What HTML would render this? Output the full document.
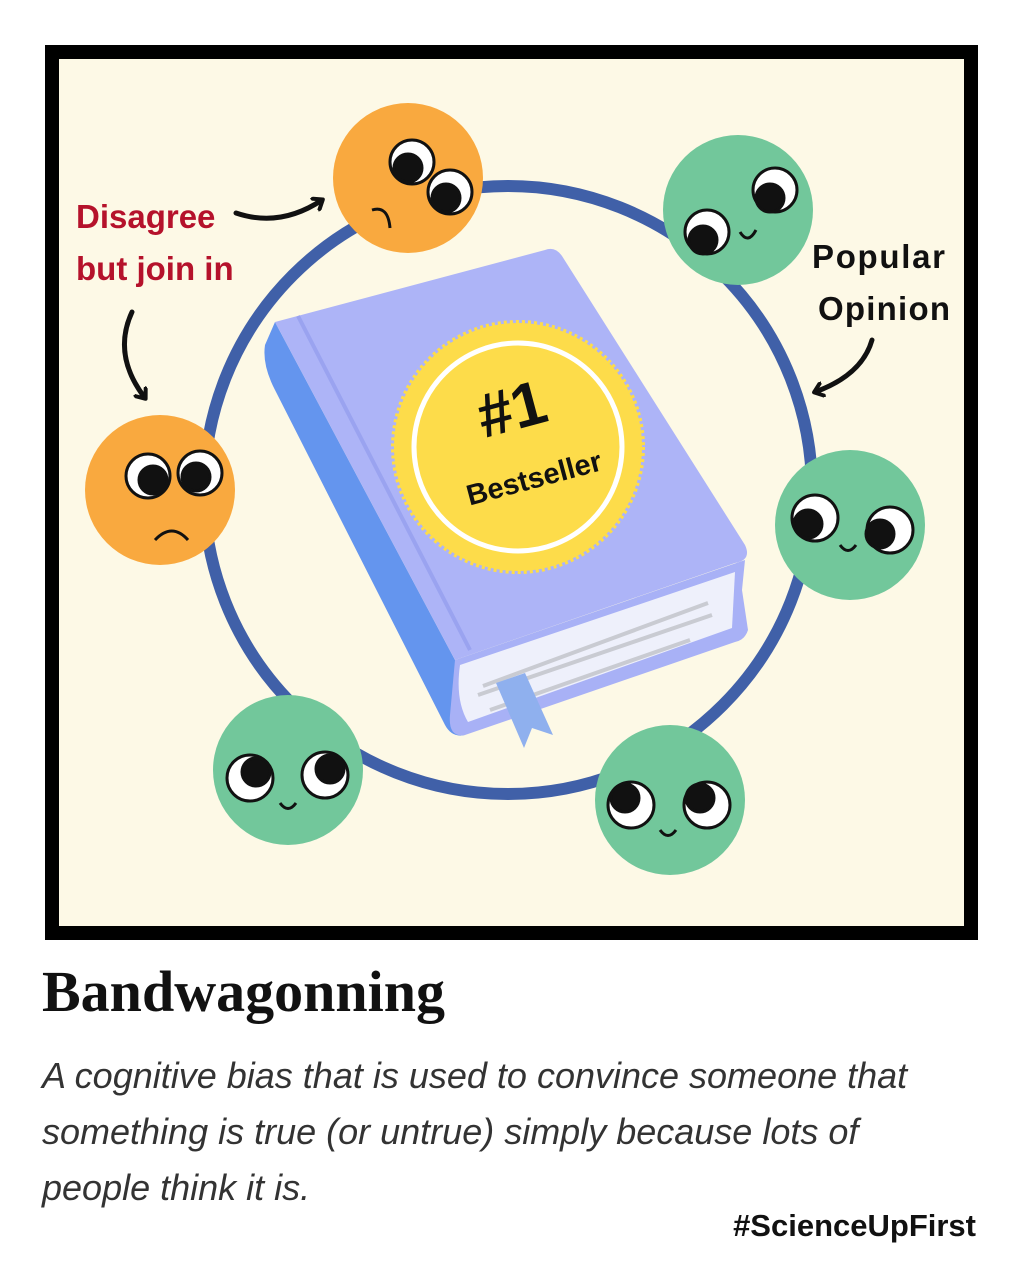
<!DOCTYPE html><html><head><style>
body{margin:0;width:1024px;height:1280px;background:#fff;position:relative;overflow:hidden;font-family:"Liberation Sans",sans-serif}
.t{position:absolute}
</style></head><body>
<svg width="1024" height="950" style="position:absolute;left:0;top:0">
<defs><marker id="ah" markerWidth="16" markerHeight="16" refX="9" refY="8" orient="auto" markerUnits="userSpaceOnUse"><path d="M1,1 L10,8 L1,15" fill="none" stroke="#111" stroke-width="4" stroke-linecap="round" stroke-linejoin="round"/></marker></defs>
<rect x="52" y="52" width="919" height="881" fill="#fdf9e6" stroke="#000" stroke-width="14"/>
<circle cx="508" cy="490" r="304" fill="none" stroke="#4060a8" stroke-width="12"/>
<!-- book -->
<path d="M275,322 L265,345 Q262,365 275,390 L445,725 Q452,738 465,735 L455,660 Z" fill="#6495ee"/>
<path d="M455,660 L745,560 L742,590 L748,630 Q745,640 735,642 L465,735 Q448,738 450,715 Z" fill="#a8b1f6"/>
<path d="M460,665 L735,572 L732,628 L468,722 Q455,700 460,665 Z" fill="#eef0fb"/>
<path d="M478,695 L712,615 M490,710 L690,640 M483,686 L708,603" stroke="#c9cbd2" stroke-width="4"/>
<path d="M496,683 L525,673 L553,735 L532,728 L524,748 Z" fill="#8fb0ee"/>
<path d="M275,322 L545,250 Q555,246 562,256 L745,545 Q752,560 735,563 L455,660 Z" fill="#adb4f7"/>
<path d="M298,316 L470,650" stroke="#9aa3f0" stroke-width="4"/>
<!-- seal -->
<circle cx="518" cy="447" r="124" fill="#fddc4a" stroke="#fddc4a" stroke-width="6" stroke-dasharray="3 3"/>
<circle cx="518" cy="447" r="104" fill="#fddc4a" stroke="#fff" stroke-width="5"/>
<text x="512" y="430" transform="rotate(-15 512 410)" text-anchor="middle" font-family="Liberation Sans" font-weight="bold" font-size="62" fill="#111">#1</text>
<text x="534" y="488" transform="rotate(-15 534 478)" text-anchor="middle" font-family="Liberation Sans" font-weight="bold" font-size="29" fill="#111">Bestseller</text>
<!-- faces -->
<g stroke="#111" stroke-width="3">
<circle cx="408" cy="178" r="75" fill="#f9a93f" stroke="none"/>
<circle cx="412" cy="162" r="22" fill="#fff"/><circle cx="408" cy="168" r="14" fill="#111"/>
<circle cx="450" cy="192" r="22" fill="#fff"/><circle cx="446" cy="198" r="14" fill="#111"/>
<path d="M372,210 Q388,205 390,228" fill="none"/>
<circle cx="160" cy="490" r="75" fill="#f9a93f" stroke="none"/>
<circle cx="148" cy="476" r="22" fill="#fff"/><circle cx="153" cy="480" r="14" fill="#111"/>
<circle cx="200" cy="473" r="22" fill="#fff"/><circle cx="196" cy="477" r="14" fill="#111"/>
<path d="M155,540 Q172,522 188,540" fill="none"/>
<circle cx="738" cy="210" r="75" fill="#72c79b" stroke="none"/>
<circle cx="707" cy="232" r="22" fill="#fff"/><circle cx="703" cy="240" r="14" fill="#111"/>
<circle cx="775" cy="190" r="22" fill="#fff"/><circle cx="770" cy="198" r="14" fill="#111"/>
<path d="M740,232 Q748,245 756,230" fill="none"/>
<circle cx="850" cy="525" r="75" fill="#72c79b" stroke="none"/>
<circle cx="815" cy="518" r="23" fill="#fff"/><circle cx="808" cy="524" r="14" fill="#111"/>
<circle cx="890" cy="530" r="23" fill="#fff"/><circle cx="880" cy="534" r="14" fill="#111"/>
<path d="M840,545 Q848,556 856,545" fill="none"/>
<circle cx="288" cy="770" r="75" fill="#72c79b" stroke="none"/>
<circle cx="250" cy="778" r="23" fill="#fff"/><circle cx="256" cy="772" r="14" fill="#111"/>
<circle cx="325" cy="775" r="23" fill="#fff"/><circle cx="330" cy="769" r="14" fill="#111"/>
<path d="M280,803 Q288,814 296,803" fill="none"/>
<circle cx="670" cy="800" r="75" fill="#72c79b" stroke="none"/>
<circle cx="631" cy="805" r="23" fill="#fff"/><circle cx="625" cy="798" r="14" fill="#111"/>
<circle cx="707" cy="805" r="23" fill="#fff"/><circle cx="700" cy="798" r="14" fill="#111"/>
<path d="M660,830 Q668,841 676,830" fill="none"/>
</g>
<!-- arrows -->
<g fill="none" stroke="#111" stroke-width="5" stroke-linecap="round">
<path d="M236,213 Q280,228 322,200" marker-end="url(#ah)"/>
<path d="M132,312 Q112,355 145,398" marker-end="url(#ah)"/>
<path d="M872,340 Q862,375 815,392" marker-end="url(#ah)"/>
</g>
<g font-family="Liberation Sans" font-weight="bold" font-size="33">
<text x="76" y="228" fill="#b5122b">Disagree</text>
<text x="76" y="280" fill="#b5122b">but join in</text>
<text x="812" y="268" fill="#111" textLength="133">Popular</text>
<text x="818" y="320" fill="#111" textLength="132">Opinion</text>
</g>
</svg>
<div class="t" style="left:42px;top:958px;font:bold 58px 'Liberation Serif',serif;color:#111">Bandwagonning</div>
<div class="t" style="left:42px;top:1048px;width:980px;font:italic 36px/56px 'Liberation Sans',sans-serif;color:#333">A cognitive bias that is used to convince someone that<br>something is true (or untrue) simply because lots of<br>people think it is.</div>
<div class="t" style="right:48px;top:1208px;font:bold 31px 'Liberation Sans',sans-serif;color:#111">#ScienceUpFirst</div>
</body></html>
